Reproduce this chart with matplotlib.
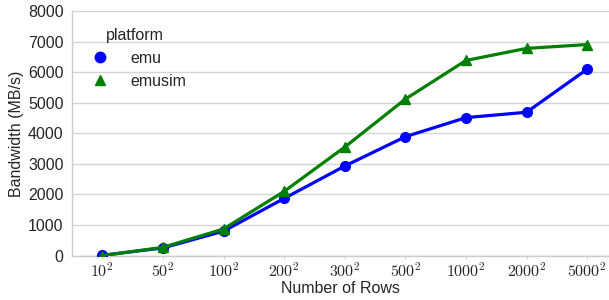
import matplotlib
matplotlib.use("Agg")
import matplotlib.pyplot as plt
from matplotlib.lines import Line2D

# data
row_labels = ["$10^2$", "$50^2$", "$100^2$", "$200^2$", "$300^2$",
              "$500^2$", "$1000^2$", "$2000^2$", "$5000^2$"]
emu_bw = [10, 250, 800, 1870, 2930, 3890, 4515, 4690, 6100]
emusim_bw = [0, 270, 870, 2100, 3550, 5120, 6385, 6780, 6905]

plt.rcParams["font.family"] = ["Liberation Sans", "DejaVu Sans"]
plt.rcParams["mathtext.fontset"] = "cm"

fig = plt.figure(figsize=(6.09, 3.0), dpi=100)
ax = fig.add_axes([0.1182, 0.148, 0.8818, 0.815])

x = list(range(len(row_labels)))
ax.plot(x, emu_bw, color="#0000ff", marker="o", markersize=7, lw=2.3,
        zorder=3)
ax.plot(x, emusim_bw, color="#008000", marker="^", markersize=7, lw=2.3,
        zorder=4)

ax.set_xlim(-0.5, 8.36)
ax.set_ylim(0, 8000)
ax.set_yticks(range(0, 8001, 1000))
ax.set_xticks(x)
ax.set_xticklabels(row_labels)
ax.tick_params(axis="y", length=0, labelsize=11.5, pad=6, colors="#262626")
ax.tick_params(axis="x", length=2, color="#cccccc", labelsize=11.5, pad=2,
               labelcolor="#262626")

ax.grid(axis="y", color="#d4d4d4", lw=1)
ax.set_axisbelow(True)
for side in ["top", "right"]:
    ax.spines[side].set_visible(False)
for side in ["left", "bottom"]:
    ax.spines[side].set_color("#cccccc")
    ax.spines[side].set_linewidth(1)

ax.set_xlabel("Number of Rows", fontsize=11.5, color="#262626", labelpad=1)
ax.set_ylabel("Bandwidth (MB/s)", fontsize=11.5, color="#262626", labelpad=3)

handles = [
    Line2D([], [], color="#0000ff", marker="o", ls="", markersize=7.5),
    Line2D([], [], color="#008000", marker="^", ls="", markersize=7.5),
]
leg = ax.legend(handles, ["emu", "emusim"], title="platform", loc="upper left",
                frameon=False, fontsize=11.5, title_fontsize=11.5,
                bbox_to_anchor=(-0.005, 0.99), handletextpad=0.9,
                labelspacing=0.5)
for t in leg.get_texts():
    t.set_color("#262626")
leg.get_title().set_color("#262626")

fig.savefig("out.png", dpi=100)
